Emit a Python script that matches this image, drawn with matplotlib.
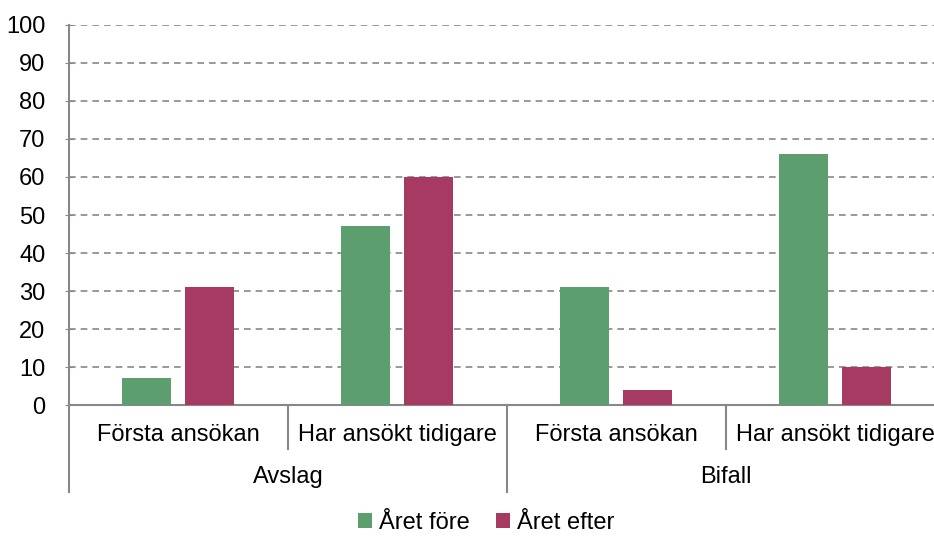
import matplotlib.pyplot as plt
import numpy as np

plt.rcParams['font.family'] = ['Liberation Sans', 'DejaVu Sans']

groups = ['Avslag', 'Bifall']
subcats = ['Första ansökan', 'Har ansökt tidigare', 'Första ansökan', 'Har ansökt tidigare']
series_names = ['Året före', 'Året efter']
fore = [7, 47, 31, 66]
efter = [31, 60, 4, 10]
colors = ['#5c9e6e', '#a63a62']

fs = 17

fig = plt.figure(figsize=(9.34, 5.36), dpi=100)
ax = fig.add_axes([69 / 934, 1 - 405 / 536, 876 / 934, 380 / 536])

x = np.arange(len(subcats))
w = 0.225
ax.bar(x - 0.145, fore, w, color=colors[0], label=series_names[0], zorder=3)
ax.bar(x + 0.14, efter, w, color=colors[1], label=series_names[1], zorder=3)

ax.set_xlim(-0.5, len(subcats) - 0.5)
ax.set_ylim(0, 100)
ax.set_yticks(range(0, 101, 10))
ax.tick_params(axis='y', labelsize=fs, length=6, direction='inout', color='#888888', pad=14)
ax.yaxis.grid(True, linestyle=(0, (4, 3)), color='#888888', linewidth=1.2, zorder=0)
ax.set_xticks([])

for s in ['top', 'right']:
    ax.spines[s].set_visible(False)
ax.spines['left'].set_color('#888888')
ax.spines['bottom'].set_color('#888888')
ax.spines['left'].set_linewidth(1.5)
ax.spines['bottom'].set_linewidth(1.5)

trans = ax.get_xaxis_transform()
for i, lab in enumerate(subcats):
    ax.text(i, -0.08, lab, transform=trans, ha='center', va='center', fontsize=fs)
for j, g in enumerate(groups):
    ax.text(2 * j + 0.5, -0.19, g, transform=trans, ha='center', va='center', fontsize=fs)

for xb, long in [(-0.5, True), (0.5, False), (1.5, True), (2.5, False), (3.5, True)]:
    y1 = -0.23 if long else -0.115
    ax.plot([xb, xb], [0, y1], transform=trans, color='#888888', linewidth=1.5, clip_on=False)

fig.legend(loc='center', bbox_to_anchor=(486 / 934, 1 - 523 / 536), ncol=2, frameon=False,
           fontsize=fs, handlelength=0.6, handleheight=0.6, handletextpad=0.3, columnspacing=1.1)

fig.savefig('out.png', dpi=100)
